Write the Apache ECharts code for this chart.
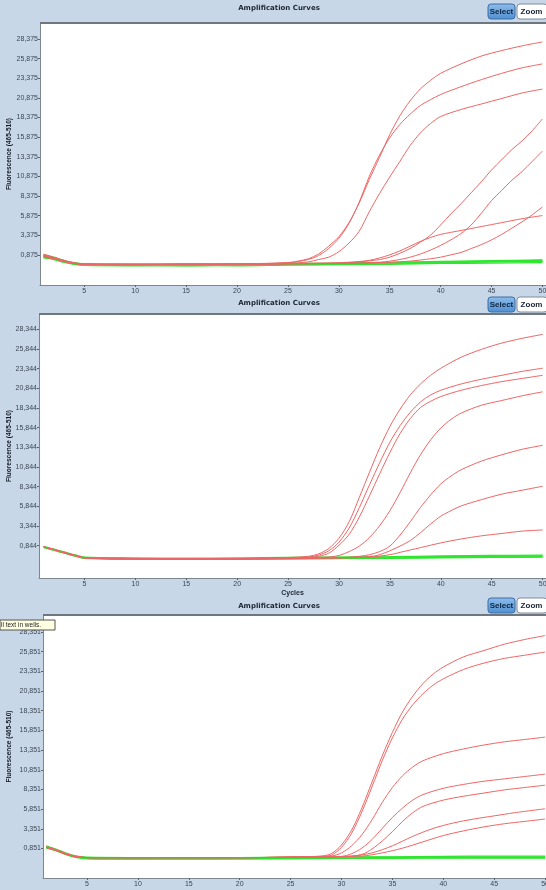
<!DOCTYPE html>
<html><head><meta charset="utf-8">
<script src="https://cdn.jsdelivr.net/npm/echarts@6/dist/echarts.min.js"></script>
<style>html,body{margin:0;padding:0;background:#c8d7e7;overflow:hidden}#c{width:546px;height:890px}</style>
</head><body><div id="c"></div>
<script>
// ---------- tick labels ----------
const xTicks = [5, 10, 15, 20, 25, 30, 35, 40, 45, 50];
const yTicks1 = [0.875, 3.375, 5.875, 8.375, 10.875, 13.375, 15.875, 18.375, 20.875, 23.375, 25.875, 28.375];
const yTicks2 = [0.844, 3.344, 5.844, 8.344, 10.844, 13.344, 15.844, 18.344, 20.844, 23.344, 25.844, 28.344];
const yTicks3 = [0.851, 3.351, 5.851, 8.351, 10.851, 13.351, 15.851, 18.351, 20.851, 23.351, 25.851, 28.351];
const panelTitle = 'Amplification Curves';
const yName = 'Fluorescence (465-510)';
const xName = 'Cycles';

// ---------- panel 1 : [cycle, fluorescence] ----------
const p1RedA = [[1,1.0],[2,0.6],[3,0.2],[4,-0.1],[5,-0.25],[10,-0.3],[15,-0.3],[20,-0.25],[25,-0.1],[26,0.1],[27,0.4],[28,1.0],[29,2.0],[30,3.2],[31,5.0],[32,7.5],[33,10.5],[34,13.3],[35,16.2],[36,18.6],[37,20.5],[38,22.0],[39,23.1],[40,24.0],[42,25.2],[44,26.2],[46,26.9],[48,27.5],[50,28.0]];
const p1RedB = [[1,0.6],[2,0.45],[3,0.1],[4,-0.15],[5,-0.3],[10,-0.35],[15,-0.25],[20,-0.3],[25,-0.1],[26,0.05],[27,0.3],[28,0.8],[29,1.7],[30,3.0],[31,4.9],[32,7.6],[33,10.9],[34,13.6],[35,15.8],[36,17.5],[37,18.8],[38,19.9],[40,21.3],[42,22.3],[44,23.2],[46,24.0],[48,24.7],[50,25.2]];
const p1RedC = [[1,0.8],[2,0.5],[3,0.1],[4,-0.2],[5,-0.3],[10,-0.35],[15,-0.3],[20,-0.3],[25,-0.2],[27,0.0],[28,0.3],[29,0.6],[30,1.3],[31,2.4],[32,3.9],[33,6.4],[34,8.7],[35,10.8],[36,12.8],[37,14.8],[38,16.4],[39,17.6],[40,18.5],[42,19.4],[44,20.1],[46,20.8],[48,21.5],[50,22.0]];
const p1RedD = [[1,0.7],[2,0.4],[3,0.05],[4,-0.2],[5,-0.3],[10,-0.3],[15,-0.35],[20,-0.3],[25,-0.25],[30,-0.15],[32,0.0],[34,0.3],[35,0.6],[36,1.1],[37,1.7],[38,2.5],[39,3.4],[40,4.7],[41,6.1],[42,7.4],[43,8.8],[44,10.2],[45,11.7],[46,13.0],[47,14.3],[48,15.4],[49,16.7],[50,18.2]];
const p1RedE = [[1,0.9],[2,0.55],[3,0.15],[4,-0.15],[5,-0.3],[10,-0.3],[15,-0.3],[20,-0.25],[25,-0.2],[30,-0.2],[34,-0.05],[36,0.3],[37,0.6],[38,1.0],[39,1.5],[40,2.1],[41,2.8],[42,3.6],[43,4.7],[44,6.2],[45,7.8],[46,9.1],[47,10.4],[48,11.5],[49,12.8],[50,14.1]];
const p1RedF = [[1,0.6],[2,0.4],[3,0.05],[4,-0.2],[5,-0.3],[10,-0.3],[15,-0.3],[20,-0.3],[25,-0.2],[30,-0.1],[32,0.05],[33,0.2],[34,0.5],[35,0.9],[36,1.4],[37,2.0],[38,2.6],[39,3.1],[40,3.5],[42,4.0],[44,4.5],[46,5.0],[48,5.5],[50,5.9]];
const p1RedG = [[1,0.8],[2,0.5],[3,0.1],[4,-0.15],[5,-0.3],[10,-0.35],[15,-0.3],[20,-0.3],[25,-0.25],[30,-0.2],[35,-0.05],[37,0.1],[39,0.4],[40,0.6],[41,0.9],[42,1.2],[43,1.7],[44,2.2],[45,2.8],[46,3.5],[47,4.3],[48,5.1],[49,6.0],[50,7.0]];
const p1Grn1 = [[1,0.9],[2,0.6],[3,0.2],[4,-0.1],[5,-0.25],[10,-0.3],[15,-0.35],[20,-0.3],[25,-0.2],[30,-0.15],[35,-0.05],[40,0.05],[45,0.15],[50,0.25]];
const p1Grn2 = [[1,0.5],[2,0.3],[3,-0.05],[4,-0.3],[5,-0.45],[10,-0.5],[15,-0.45],[20,-0.5],[25,-0.4],[30,-0.35],[35,-0.3],[40,-0.2],[45,-0.15],[50,-0.1]];
const p1Grn3 = [[1,0.7],[2,0.45],[3,0.1],[4,-0.2],[5,-0.35],[10,-0.4],[15,-0.4],[20,-0.35],[25,-0.3],[30,-0.25],[35,-0.15],[40,-0.05],[45,0.05],[50,0.1]];
const p1Grn4 = [[1,0.6],[2,0.4],[3,0.0],[4,-0.25],[5,-0.4],[10,-0.45],[15,-0.5],[20,-0.4],[25,-0.35],[30,-0.3],[35,-0.2],[40,-0.1],[45,0.0],[50,0.05]];
const p1Grn5 = [[1,0.8],[2,0.5],[3,0.15],[4,-0.15],[5,-0.3],[10,-0.35],[15,-0.3],[20,-0.35],[25,-0.25],[30,-0.2],[35,-0.1],[40,0.0],[45,0.1],[50,0.2]];

// ---------- panel 2 ----------
const p2RedA = [[1,0.7],[2,0.35],[3,0.0],[4,-0.35],[5,-0.65],[10,-0.8],[15,-0.85],[20,-0.8],[25,-0.65],[27,-0.5],[28,-0.2],[29,0.5],[30,1.8],[31,3.9],[32,7.0],[33,10.2],[34,13.3],[35,16.0],[36,18.2],[37,20.0],[38,21.4],[39,22.5],[40,23.4],[42,24.8],[44,25.8],[46,26.6],[48,27.2],[50,27.7]];
const p2RedB = [[1,0.7],[2,0.35],[3,0.0],[4,-0.35],[5,-0.7],[10,-0.85],[15,-0.8],[20,-0.8],[25,-0.7],[27,-0.6],[28,-0.35],[29,0.2],[30,1.3],[31,3.1],[32,5.7],[33,8.6],[34,11.4],[35,14.0],[36,16.1],[37,17.8],[38,19.1],[39,20.0],[40,20.6],[42,21.4],[44,22.0],[46,22.5],[48,23.0],[50,23.4]];
const p2RedC = [[1,0.7],[2,0.35],[3,0.0],[4,-0.4],[5,-0.7],[10,-0.8],[15,-0.85],[20,-0.85],[25,-0.7],[27,-0.65],[28,-0.5],[29,-0.1],[30,0.9],[31,2.3],[32,4.5],[33,7.2],[34,10.0],[35,12.7],[36,15.1],[37,17.0],[38,18.4],[39,19.2],[40,19.8],[42,20.6],[44,21.2],[46,21.7],[48,22.1],[50,22.5]];
const p2RedD = [[1,0.7],[2,0.35],[3,-0.05],[4,-0.4],[5,-0.7],[10,-0.8],[15,-0.8],[20,-0.85],[25,-0.75],[29,-0.6],[30,-0.4],[31,0.1],[32,0.8],[33,1.9],[34,3.4],[35,5.3],[36,7.6],[37,10.1],[38,12.4],[39,14.3],[40,15.8],[41,16.9],[42,17.7],[44,18.7],[46,19.3],[48,19.9],[50,20.4]];
const p2RedE = [[1,0.7],[2,0.35],[3,-0.05],[4,-0.4],[5,-0.7],[10,-0.85],[15,-0.8],[20,-0.8],[25,-0.75],[30,-0.7],[32,-0.5],[33,-0.3],[34,0.1],[35,0.8],[36,2.2],[37,3.9],[38,5.7],[39,7.3],[40,8.7],[41,9.7],[42,10.5],[44,11.6],[46,12.4],[48,13.1],[50,13.6]];
const p2RedF = [[1,0.7],[2,0.35],[3,-0.05],[4,-0.4],[5,-0.7],[10,-0.8],[15,-0.85],[20,-0.8],[25,-0.75],[30,-0.7],[33,-0.55],[34,-0.3],[35,0.2],[36,0.8],[37,1.5],[38,2.5],[39,3.6],[40,4.6],[41,5.3],[42,5.9],[44,6.7],[46,7.4],[48,7.9],[50,8.4]];
const p2RedG = [[1,0.7],[2,0.35],[3,-0.05],[4,-0.4],[5,-0.7],[10,-0.8],[15,-0.8],[20,-0.8],[25,-0.75],[30,-0.7],[33,-0.6],[35,-0.3],[36,0.0],[38,0.6],[40,1.2],[42,1.7],[44,2.1],[46,2.4],[48,2.7],[50,2.85]];
const p2Grn1 = [[1,0.75],[2,0.4],[3,0.05],[4,-0.3],[5,-0.6],[10,-0.7],[15,-0.75],[20,-0.7],[25,-0.65],[30,-0.6],[35,-0.55],[40,-0.45],[45,-0.4],[50,-0.35]];
const p2Grn2 = [[1,0.6],[2,0.25],[3,-0.1],[4,-0.45],[5,-0.75],[10,-0.85],[15,-0.9],[20,-0.85],[25,-0.8],[30,-0.75],[35,-0.7],[40,-0.65],[45,-0.6],[50,-0.55]];
const p2Grn3 = [[1,0.7],[2,0.35],[3,0.0],[4,-0.4],[5,-0.7],[10,-0.8],[15,-0.8],[20,-0.8],[25,-0.7],[30,-0.65],[35,-0.6],[40,-0.55],[45,-0.5],[50,-0.45]];
const p2Grn4 = [[1,0.65],[2,0.3],[3,-0.05],[4,-0.4],[5,-0.7],[10,-0.9],[15,-0.85],[20,-0.9],[25,-0.85],[30,-0.8],[35,-0.75],[40,-0.7],[45,-0.65],[50,-0.6]];

// ---------- panel 3 ----------
const p3RedA = [[1,1.1],[2,0.7],[3,0.2],[4,-0.15],[5,-0.3],[10,-0.3],[15,-0.3],[20,-0.3],[25,-0.25],[28,-0.1],[29,0.2],[30,1.3],[31,3.2],[32,6.0],[33,9.3],[34,12.6],[35,15.6],[36,18.2],[37,20.2],[38,21.8],[39,23.0],[40,23.9],[42,25.2],[44,26.0],[46,26.8],[48,27.4],[50,27.9]];
const p3RedB = [[1,1.0],[2,0.65],[3,0.15],[4,-0.2],[5,-0.3],[10,-0.3],[15,-0.3],[20,-0.3],[25,-0.25],[28,-0.15],[29,0.0],[30,1.0],[31,2.8],[32,5.5],[33,8.7],[34,12.0],[35,14.9],[36,17.3],[37,19.1],[38,20.5],[39,21.6],[40,22.4],[42,23.6],[44,24.4],[46,25.0],[48,25.4],[50,25.8]];
const p3RedC = [[1,1.0],[2,0.6],[3,0.1],[4,-0.2],[5,-0.3],[10,-0.3],[15,-0.3],[20,-0.3],[25,-0.25],[29,-0.1],[30,0.3],[31,1.2],[32,2.6],[33,4.5],[34,6.7],[35,8.6],[36,10.1],[37,11.2],[38,12.0],[40,12.9],[42,13.5],[44,14.0],[46,14.4],[48,14.7],[50,15.0]];
const p3RedD = [[1,1.0],[2,0.6],[3,0.1],[4,-0.2],[5,-0.3],[10,-0.3],[15,-0.3],[20,-0.3],[25,-0.25],[30,-0.15],[31,0.2],[32,0.9],[33,2.0],[34,3.4],[35,4.8],[36,6.0],[37,7.0],[38,7.7],[40,8.5],[42,9.0],[44,9.4],[46,9.7],[48,10.0],[50,10.3]];
const p3RedE = [[1,1.0],[2,0.6],[3,0.1],[4,-0.2],[5,-0.3],[10,-0.3],[15,-0.3],[20,-0.3],[25,-0.25],[30,-0.2],[32,0.1],[33,0.8],[34,1.8],[35,3.0],[36,4.3],[37,5.4],[38,6.2],[40,7.0],[42,7.5],[44,7.9],[46,8.3],[48,8.6],[50,8.9]];
const p3RedF = [[1,1.0],[2,0.6],[3,0.1],[4,-0.2],[5,-0.3],[10,-0.3],[15,-0.3],[20,-0.3],[25,-0.25],[31,-0.1],[33,0.3],[35,1.2],[37,2.4],[39,3.4],[41,4.1],[43,4.6],[45,5.0],[47,5.4],[50,5.9]];
const p3RedG = [[1,1.0],[2,0.6],[3,0.1],[4,-0.2],[5,-0.3],[10,-0.3],[15,-0.3],[20,-0.3],[25,-0.25],[32,-0.1],[34,0.3],[36,0.9],[38,1.7],[40,2.5],[42,3.1],[44,3.6],[46,4.0],[48,4.3],[50,4.6]];
const p3Grn1 = [[1,1.1],[2,0.7],[3,0.2],[4,-0.15],[5,-0.3],[10,-0.35],[15,-0.3],[20,-0.35],[25,-0.3],[30,-0.25],[35,-0.25],[40,-0.2],[45,-0.2],[50,-0.2]];
const p3Grn2 = [[1,1.0],[2,0.6],[3,0.1],[4,-0.25],[5,-0.4],[10,-0.45],[15,-0.4],[20,-0.45],[25,-0.4],[30,-0.35],[35,-0.35],[40,-0.3],[45,-0.3],[50,-0.3]];
const p3Grn3 = [[1,1.2],[2,0.75],[3,0.25],[4,-0.1],[5,-0.25],[10,-0.3],[15,-0.3],[20,-0.3],[25,-0.25],[30,-0.2],[35,-0.2],[40,-0.15],[45,-0.1],[50,-0.1]];
const p3Grn4 = [[1,0.9],[2,0.55],[3,0.05],[4,-0.3],[5,-0.45],[10,-0.5],[15,-0.5],[20,-0.45],[25,-0.45],[30,-0.4],[35,-0.4],[40,-0.35],[45,-0.35],[50,-0.35]];

// ---------- layout ----------
const panels = [
  { grid:{left:40, top:23, width:506, height:262}, xMin:0.65, xMax:50.35, yMin:-2.94, yMax:30.41, yTicks:yTicks1,
    red:[p1RedA,p1RedB,p1RedC,p1RedD,p1RedE,p1RedF,p1RedG], green:[p1Grn1,p1Grn2,p1Grn3,p1Grn4,p1Grn5],
    titleY:8, btnY:4, showXName:false },
  { grid:{left:39, top:314, width:507, height:264}, xMin:0.53, xMax:50.33, yMin:-3.26, yMax:30.29, yTicks:yTicks2,
    red:[p2RedA,p2RedB,p2RedC,p2RedD,p2RedE,p2RedF,p2RedG], green:[p2Grn1,p2Grn2,p2Grn3,p2Grn4],
    titleY:303, btnY:297, showXName:true },
  { grid:{left:43, top:615, width:503, height:263}, xMin:0.68, xMax:50.09, yMin:-2.89, yMax:30.51, yTicks:yTicks3,
    red:[p3RedA,p3RedB,p3RedC,p3RedD,p3RedE,p3RedF,p3RedG], green:[p3Grn1,p3Grn2,p3Grn3,p3Grn4],
    titleY:606, btnY:598, showXName:false }
];

const FONT = 'Liberation Sans';
const fmt = v => v.toFixed(3).replace('.', ',');
const chart = echarts.init(document.getElementById('c'), null, {renderer:'canvas'});

const grid = [], xAxis = [], yAxis = [], series = [], graphic = [];
panels.forEach((p, i) => {
  grid.push(Object.assign({show:true, backgroundColor:'#ffffff', borderWidth:0, containLabel:false, outerBoundsMode:'none'}, p.grid));
  xAxis.push({
    gridIndex:i, type:'value', min:p.xMin, max:p.xMax,
    axisLine:{show:true, onZero:false, lineStyle:{color:'#7d8790'}},
    axisTick:{show:true, customValues:xTicks, length:2, lineStyle:{color:'#5a6470'}},
    axisLabel:{customValues:xTicks, fontSize:7, color:'#3b4756', margin:3, fontFamily:FONT},
    splitLine:{show:false},
    name: p.showXName ? xName : '', nameLocation:'middle', nameGap:12, nameMoveOverlap:false,
    nameTextStyle:{fontSize:7, fontWeight:'bold', color:'#1b2633', fontFamily:FONT}
  });
  yAxis.push({
    gridIndex:i, type:'value', min:p.yMin, max:p.yMax,
    axisLine:{show:true, onZero:false, lineStyle:{color:'#7d8790'}},
    axisTick:{show:true, customValues:p.yTicks, length:2, lineStyle:{color:'#5a6470'}},
    axisLabel:{customValues:p.yTicks, formatter:fmt, fontSize:7, color:'#3b4756', margin:2, fontFamily:FONT},
    splitLine:{show:false},
    name:yName, nameLocation:'middle', nameGap:p.grid.left - 13, nameRotate:90, nameMoveOverlap:false,
    nameTextStyle:{fontSize:6.5, fontWeight:'bold', color:'#111a24', fontFamily:FONT}
  });
  p.red.forEach(d => series.push({type:'line', xAxisIndex:i, yAxisIndex:i, data:d, showSymbol:false, smooth:0.3,
    lineStyle:{color:'#ee6666', width:1}, silent:true, z:3}));
  p.green.forEach(d => series.push({type:'line', xAxisIndex:i, yAxisIndex:i, data:d, showSymbol:false, smooth:0.3,
    lineStyle:{color:'#2ee62e', width:1.3}, silent:true, z:2}));

  graphic.push({type:'text', x:279, y:p.titleY, z:10,
    style:{text:panelTitle, fill:'#1b2633', font:'bold 7px "DejaVu Sans"', textAlign:'center', textVerticalAlign:'middle'}});
  graphic.push({type:'line', z:10, shape:{x1:p.grid.left, y1:p.grid.top, x2:546, y2:p.grid.top}, style:{stroke:'#6e7680', lineWidth:2}});
  graphic.push({type:'rect', z:10, shape:{x:488, y:p.btnY, width:27, height:15, r:3},
    style:{fill:new echarts.graphic.LinearGradient(0,0,0,1,[{offset:0,color:'#8fbdea'},{offset:1,color:'#4f8fd0'}]), stroke:'#3a6ea8', lineWidth:1}});
  graphic.push({type:'text', z:11, x:501.5, y:p.btnY+7.5,
    style:{text:'Select', fill:'#0f2340', font:'bold 8px "Liberation Sans"', textAlign:'center', textVerticalAlign:'middle'}});
  graphic.push({type:'rect', z:10, shape:{x:517, y:p.btnY, width:30, height:15, r:3},
    style:{fill:'#ffffff', stroke:'#7f8c99', lineWidth:1}});
  graphic.push({type:'text', z:11, x:531.5, y:p.btnY+7.5,
    style:{text:'Zoom', fill:'#1b2633', font:'bold 8px "Liberation Sans"', textAlign:'center', textVerticalAlign:'middle'}});
});

graphic.push({type:'rect', z:20, shape:{x:0, y:620, width:55, height:10}, style:{fill:'#ffffe1', stroke:'#555', lineWidth:1}});
graphic.push({type:'text', z:21, x:1, y:625, style:{text:'ll text in wells.', fill:'#222', font:'6.5px "Liberation Sans"', textVerticalAlign:'middle'}});

chart.setOption({
  animation:false,
  backgroundColor:'#c8d7e7',
  grid, xAxis, yAxis, series, graphic
});
</script>
</body></html>
